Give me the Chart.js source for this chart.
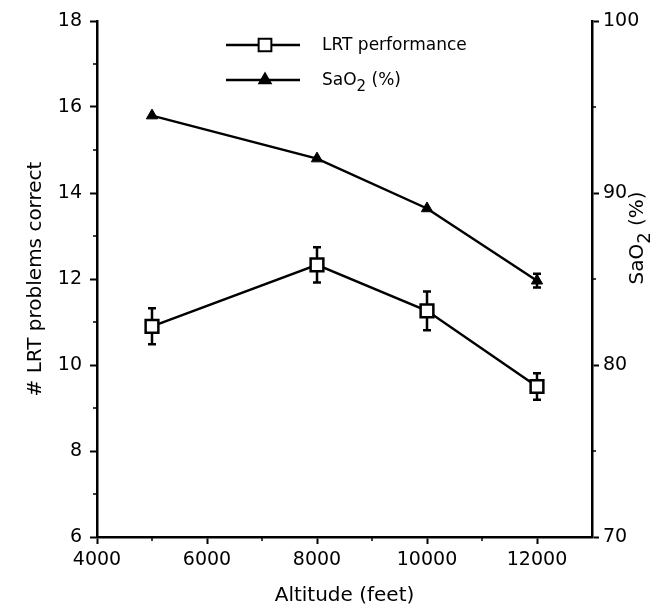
<!DOCTYPE html>
<html>
<head>
<meta charset="utf-8">
<script src="https://cdn.jsdelivr.net/npm/chart.js"></script>
<style>
  body { margin: 0; background: #fff; }
  #chart { display: block; }
</style>
</head>
<body>
<canvas id="chart" width="665" height="609"></canvas>
<script>
// altitude (feet) and the two measured series
const altitudes = [5000, 8000, 10000, 12000];
const lrtScores = [10.9, 12.33, 11.26, 9.5];
const lrtErrors = [0.42, 0.41, 0.45, 0.31];
const sao2Values = [94.5, 92.0, 89.1, 84.9];
const sao2Errors = [0, 0, 0, 0.4];

// axis ticks
const xTicks = [4000, 6000, 8000, 10000, 12000];
const xMinorTicks = [5000, 7000, 9000, 11000];
const leftTicks = [6, 8, 10, 12, 14, 16, 18];
const leftMinorTicks = [7, 9, 11, 13, 15, 17];
const rightTicks = [70, 80, 90, 100];
const rightMinorTicks = [75, 85, 95];

const FONT = 'DejaVu Sans';
Chart.defaults.color = '#000';
Chart.defaults.font.family = FONT;

function toPoints(xs, ys) {
    return xs.map((x, i) => ({ x: x, y: ys[i] }));
}

// draw "SaO2 (%)" with a lowered 2
function drawSaO2(ctx, x, y, size) {
    ctx.font = size + 'px "' + FONT + '"';
    ctx.textAlign = 'left';
    ctx.textBaseline = 'middle';
    ctx.fillText('SaO', x, y);
    let w = ctx.measureText('SaO').width;
    ctx.font = Math.round(size * 0.9) + 'px "' + FONT + '"';
    ctx.fillText('2', x + w, y + size * 0.35);
    w += ctx.measureText('2').width;
    ctx.font = size + 'px "' + FONT + '"';
    ctx.fillText(' (%)', x + w, y);
}

function marker(ctx, style, r, x, y, fill) {
    ctx.save();
    ctx.lineWidth = 2;
    ctx.strokeStyle = '#000';
    ctx.fillStyle = fill;
    ctx.beginPath();
    if (style === 'rect') {
        const s = Math.SQRT1_2 * r;
        ctx.rect(x - s, y - s, 2 * s, 2 * s);
    } else {
        ctx.moveTo(x, y - r);
        ctx.lineTo(x + r * Math.sin(Math.PI / 3), y + r / 2);
        ctx.lineTo(x - r * Math.sin(Math.PI / 3), y + r / 2);
        ctx.closePath();
    }
    ctx.fill();
    ctx.stroke();
    ctx.restore();
}

const errorBars = {
    id: 'errorBars',
    beforeDatasetsDraw(chart) {
        const ctx = chart.ctx;
        chart.data.datasets.forEach((ds, di) => {
            const meta = chart.getDatasetMeta(di);
            const scale = chart.scales[ds.yAxisID];
            ds.errors.forEach((e, i) => {
                if (!e) return;
                const px = meta.data[i].x;
                const top = scale.getPixelForValue(ds.data[i].y + e);
                const bot = scale.getPixelForValue(ds.data[i].y - e);
                ctx.save();
                ctx.strokeStyle = '#000';
                ctx.lineWidth = 2.5;
                ctx.beginPath();
                ctx.moveTo(px, top); ctx.lineTo(px, bot);
                ctx.moveTo(px - 4, top); ctx.lineTo(px + 4, top);
                ctx.moveTo(px - 4, bot); ctx.lineTo(px + 4, bot);
                ctx.stroke();
                ctx.restore();
            });
        });
    }
};

const extras = {
    id: 'extras',
    afterDraw(chart) {
        const ctx = chart.ctx;
        const { x, y, y1 } = chart.scales;
        const area = chart.chartArea;
        ctx.save();
        ctx.strokeStyle = '#000';
        ctx.lineWidth = 1.5;
        ctx.beginPath();
        leftMinorTicks.forEach(v => {
            const p = y.getPixelForValue(v);
            ctx.moveTo(area.left - 4, p); ctx.lineTo(area.left, p);
        });
        rightMinorTicks.forEach(v => {
            const p = y1.getPixelForValue(v);
            ctx.moveTo(area.right, p); ctx.lineTo(area.right + 4, p);
        });
        xMinorTicks.forEach(v => {
            const p = x.getPixelForValue(v);
            ctx.moveTo(p, area.bottom); ctx.lineTo(p, area.bottom + 4);
        });
        ctx.stroke();

        // legend
        ctx.fillStyle = '#000';
        chart.data.datasets.forEach((ds, i) => {
            const ly = 45 + i * 35;
            ctx.lineWidth = 2.5;
            ctx.beginPath();
            ctx.moveTo(226, ly); ctx.lineTo(300, ly);
            ctx.stroke();
            marker(ctx, ds.pointStyle, ds.pointRadius, 265, ly, ds.pointBackgroundColor);
            ctx.fillStyle = '#000';
            if (i === 0) {
                ctx.font = '17px "' + FONT + '"';
                ctx.textAlign = 'left';
                ctx.textBaseline = 'middle';
                ctx.fillText(ds.label, 322, ly + 1);
            } else {
                drawSaO2(ctx, 322, ly + 1, 17);
            }
        });

        // right axis title, reading bottom to top
        ctx.translate(638, 238);
        ctx.rotate(-Math.PI / 2);
        const size = 20;
        ctx.font = size + 'px "' + FONT + '"';
        const w = ctx.measureText('SaO (%)').width + ctx.measureText('2').width * 0.9;
        drawSaO2(ctx, -w / 2, 0, size);
        ctx.restore();
    }
};

new Chart(document.getElementById('chart'), {
    type: 'line',
    data: {
        datasets: [
            {
                label: 'LRT performance',
                data: toPoints(altitudes, lrtScores),
                errors: lrtErrors,
                yAxisID: 'y',
                borderColor: '#000',
                borderWidth: 2.5,
                pointStyle: 'rect',
                pointRadius: 9,
                pointBorderWidth: 2.5,
                pointBorderColor: '#000',
                pointBackgroundColor: '#fff',
                tension: 0
            },
            {
                label: 'SaO₂ (%)',
                data: toPoints(altitudes, sao2Values),
                errors: sao2Errors,
                yAxisID: 'y1',
                borderColor: '#000',
                borderWidth: 2.5,
                pointStyle: 'triangle',
                pointRadius: 6.5,
                pointBorderWidth: 1,
                pointBorderColor: '#000',
                pointBackgroundColor: '#000',
                tension: 0
            }
        ]
    },
    options: {
        responsive: false,
        animation: false,
        layout: { padding: { top: 21, left: 0, right: 0, bottom: 0 } },
        plugins: {
            legend: { display: false },
            tooltip: { enabled: false }
        },
        scales: {
            x: {
                type: 'linear',
                min: 4000,
                max: 13000,
                afterBuildTicks: s => { s.ticks = xTicks.map(v => ({ value: v })); },
                afterFit: s => { s.height = 72; },
                border: { color: '#000', width: 2.5 },
                grid: { drawOnChartArea: false, tickLength: 7, tickColor: '#000', tickWidth: 2 },
                ticks: { padding: 5, font: { size: 19 }, maxRotation: 0, callback: v => String(v) },
                title: { display: true, text: 'Altitude (feet)', font: { size: 20 }, padding: { top: 0, bottom: 1 } }
            },
            y: {
                position: 'left',
                min: 6,
                max: 18,
                afterBuildTicks: s => { s.ticks = leftTicks.map(v => ({ value: v })); },
                afterFit: s => { s.width = 97; },
                border: { color: '#000', width: 2.5 },
                grid: { drawOnChartArea: false, tickLength: 7, tickColor: '#000', tickWidth: 2 },
                ticks: { padding: 8, font: { size: 19 } },
                title: { display: true, text: '# LRT problems correct', font: { size: 20 }, padding: { top: 24, bottom: 0 } }
            },
            y1: {
                position: 'right',
                min: 70,
                max: 100,
                afterBuildTicks: s => { s.ticks = rightTicks.map(v => ({ value: v })); },
                afterFit: s => { s.width = 73; },
                border: { color: '#000', width: 2.5 },
                grid: { drawOnChartArea: false, tickLength: 7, tickColor: '#000', tickWidth: 2 },
                ticks: { padding: 4, font: { size: 19 } }
            }
        }
    },
    plugins: [errorBars, extras]
});
</script>
</body>
</html>
